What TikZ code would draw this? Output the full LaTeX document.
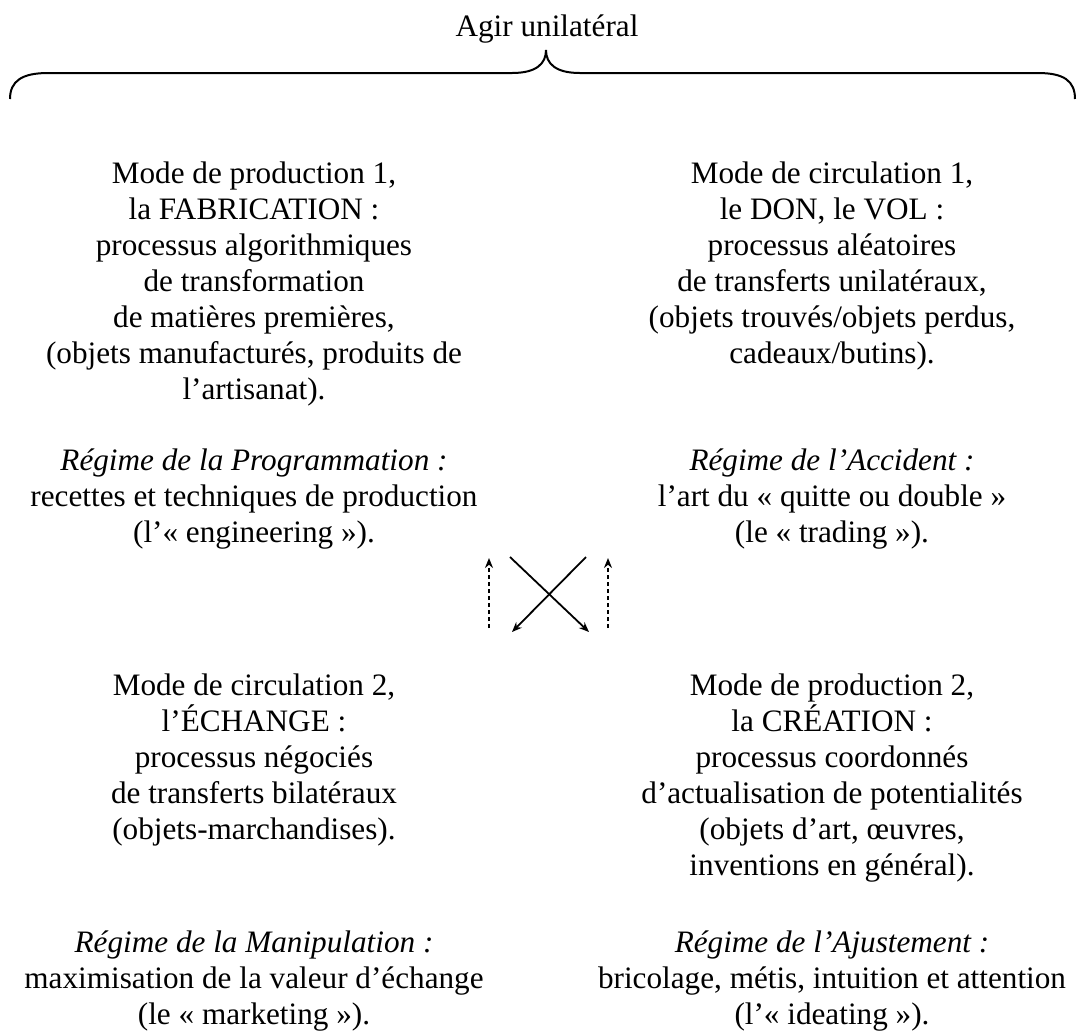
\documentclass[tikz,border=0pt]{standalone}
\usepackage{fontspec}
\setmainfont{Liberation Serif}
\usetikzlibrary{arrows.meta, positioning}

\begin{document}
\begin{tikzpicture}[x=0.5pt, y=-0.5pt,
    bloc/.style={align=center, inner sep=0pt, anchor=north, font=\fontsize{15.6}{18}\selectfont},
    fleche/.style={line width=0.9pt, -{Stealth[length=5pt,width=4pt]}},
    pointille/.style={fleche, dash pattern=on 2pt off 1.5pt}]
  \def\haut{\rule{0pt}{14.5pt}}
  \useasboundingbox (0,0) rectangle (1077,1030);

  \node[bloc, anchor=base] (titre) at (547,36) {Agir unilatéral};
  \draw[line width=1pt] (10,99) .. controls (10,81) and (22,73) .. (48,73) -- (512,73)
    .. controls (536,73) and (546,64) .. (546,50)
    .. controls (546,64) and (556,73) .. (580,73) -- (1038,73)
    .. controls (1064,73) and (1075,81) .. (1075,99);

  \node[bloc] (prod1) at (254,154) {\haut Mode de production 1,\\ la FABRICATION :\\ processus algorithmiques\\ de transformation\\ de matières premières,\\ (objets manufacturés, produits de\\ l’artisanat).};
  \node[bloc] (regprog) at (254,441) {\haut\textit{Régime de la Programmation :}\\ recettes et techniques de production\\ (l’« engineering »).};

  \node[bloc] (circ1) at (832,154) {\haut Mode de circulation 1,\\ le DON, le VOL :\\ processus aléatoires\\ de transferts unilatéraux,\\ (objets trouvés/objets perdus,\\ cadeaux/butins).};
  \node[bloc] (regacc) at (832,441) {\haut\textit{Régime de l’Accident :}\\ l’art du « quitte ou double »\\ (le « trading »).};

  \node[bloc] (circ2) at (254,666) {\haut Mode de circulation 2,\\ l’ÉCHANGE :\\ processus négociés\\ de transferts bilatéraux\\ (objets-marchandises).};
  \node[bloc] (regmanip) at (254,923) {\haut\textit{Régime de la Manipulation :}\\ maximisation de la valeur d’échange\\ (le « marketing »).};

  \node[bloc] (prod2) at (832,666) {\haut Mode de production 2,\\ la CRÉATION :\\ processus coordonnés\\ d’actualisation de potentialités\\ (objets d’art, œuvres,\\ inventions en général).};
  \node[bloc] (regajust) at (832,923) {\haut\textit{Régime de l’Ajustement :}\\ bricolage, métis, intuition et attention\\ (l’« ideating »).};

  \coordinate (g1) at (489,628); \coordinate (g2) at (489,558);
  \coordinate (d1) at (608,628); \coordinate (d2) at (608,558);
  \coordinate (x1) at (510,557); \coordinate (x2) at (589,632);
  \coordinate (y1) at (586,557); \coordinate (y2) at (512,632);
  \draw[pointille] (g1) -- (g2);
  \draw[pointille] (d1) -- (d2);
  \draw[fleche] (x1) -- (x2);
  \draw[fleche] (y1) -- (y2);
\end{tikzpicture}
\end{document}
